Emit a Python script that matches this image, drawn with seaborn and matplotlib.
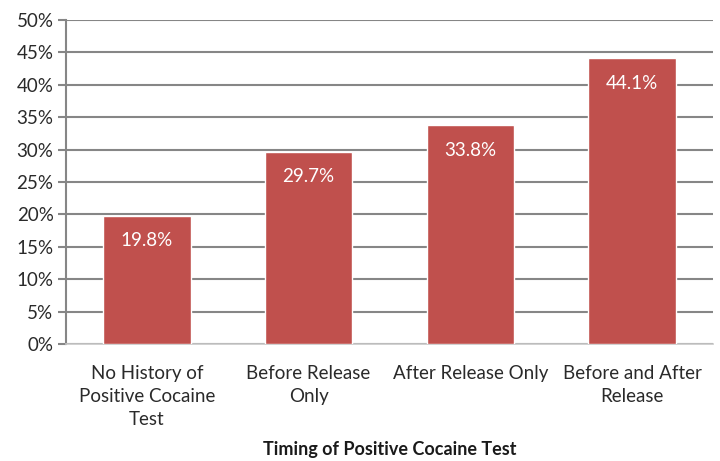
import matplotlib
matplotlib.use("Agg")
import matplotlib.pyplot as plt
import seaborn as sns
import pandas as pd
from matplotlib.ticker import PercentFormatter

categories = ["No History of\nPositive Cocaine\nTest", "Before Release\nOnly",
              "After Release Only", "Before and After\nRelease"]
values = [19.8, 29.7, 33.8, 44.1]
value_labels = ["19.8%", "29.7%", "33.8%", "44.1%"]
y_ticks = [0, 5, 10, 15, 20, 25, 30, 35, 40, 45, 50]

sns.set_theme(style="white")
plt.rcParams['font.family'] = ['Lato', 'DejaVu Sans']

df = pd.DataFrame({"cat": categories, "val": values})

fig = plt.figure(figsize=(7.2, 4.61), dpi=100)
ax = fig.add_axes([66/720, 1-344/461, (713-66)/720, (344-20)/461])

sns.barplot(data=df, x="cat", y="val", color="#C0504D", saturation=1,
            width=0.54, ax=ax, zorder=3)

ax.set_ylim(0, 50)
ax.set_xlim(-0.5, 3.5)
ax.set_yticks(y_ticks)
ax.yaxis.set_major_formatter(PercentFormatter(decimals=0))
ax.grid(axis="y", color="#868686", linewidth=1.5, zorder=0)
ax.set_axisbelow(True)
for s in ["top", "right"]:
    ax.spines[s].set_visible(False)
ax.spines["left"].set_color("#868686")
ax.spines["left"].set_linewidth(1.5)
ax.spines["bottom"].set_color("#C8C8C8")
ax.spines["bottom"].set_linewidth(1.2)
ax.tick_params(axis="y", left=True, length=6, width=1.5, color="#868686",
               labelsize=13.5, labelcolor="#2a2a2a", pad=3)
ax.tick_params(axis="x", bottom=False, labelsize=13.5, labelcolor="#2a2a2a", pad=9)
for t in ax.get_xticklabels():
    t.set_linespacing(1.45)

for i, (v, lab) in enumerate(zip(values, value_labels)):
    ax.text(i, v - 3.9, lab, ha="center", va="center", color="white", fontsize=13.5)

ax.set_xlabel("Timing of Positive Cocaine Test", fontsize=13, fontweight="bold",
              color="#1a1a1a", va="center")
ax.xaxis.set_label_coords(0.5, (344 - 450) / 324)
ax.set_ylabel("")

fig.savefig("out.png", dpi=100)
